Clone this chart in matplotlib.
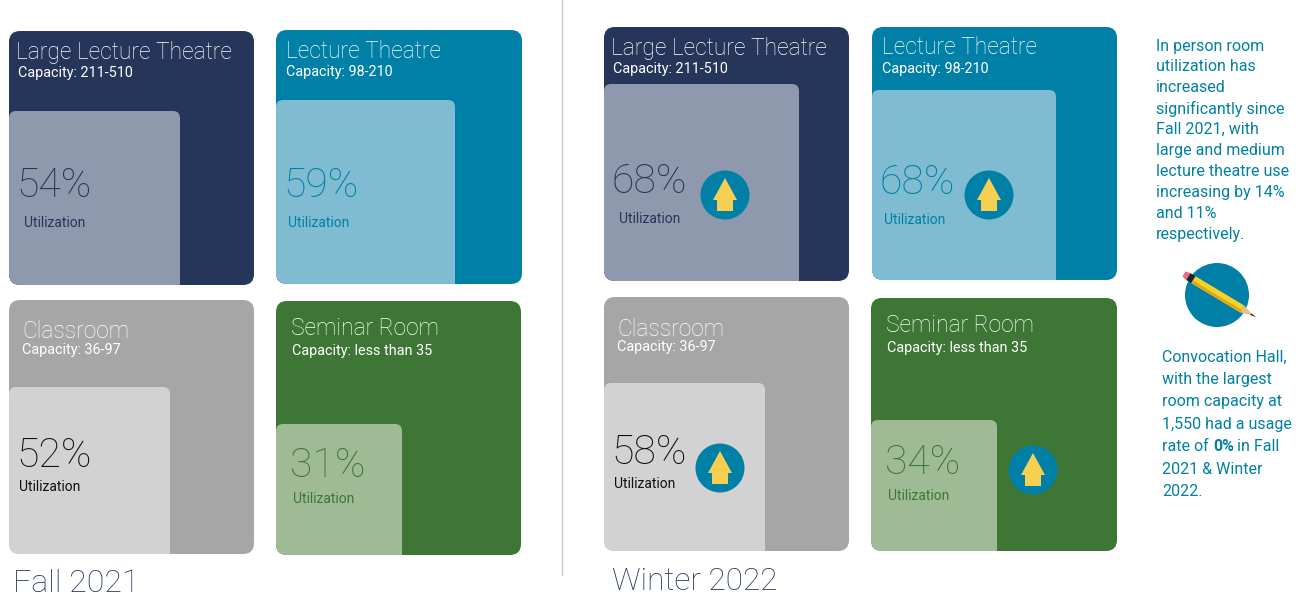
import matplotlib.pyplot as plt
from matplotlib.patches import FancyBboxPatch, Circle, Polygon
from matplotlib.transforms import Affine2D

plt.rcParams['font.family'] = ['Roboto', 'DejaVu Sans']

# Chart values
rooms = ['Large Lecture Theatre', 'Lecture Theatre', 'Classroom', 'Seminar Room']
capacities = ['Capacity: 211-510', 'Capacity: 98-210', 'Capacity: 36-97', 'Capacity: less than 35']
fall_util = [54, 59, 52, 31]
winter_util = [68, 68, 58, 34]
terms = ['Fall 2021', 'Winter 2022']
note_top = ['In person room', 'utilization has', 'increased', 'significantly since', 'Fall 2021, with',
            'large and medium', 'lecture theatre use', 'increasing by 14%', 'and 11%', 'respectively.']
note_bottom = ['Convocation Hall,', 'with the largest', 'room capacity at', '1,550 had a usage',
               'rate of', '2021 & Winter', '2022.']

# Colours per room: outer, inner, text on inner
outer_cols = ['#26355a', '#0080a6', '#a6a6a6', '#3e7636']
inner_cols = ['#8f99ad', '#7fbcd2', '#d2d2d2', '#9fbb95']
pct_cols = ['#26355a', '#0080a6', '#111111', '#3e7636']
teal = '#0080a6'
yellow = '#f7cf52'

# Layout in pixels: x0, y0, x1, y1 of each panel, and the right/top edge of the lighter box
fall_boxes = [(9, 31, 254, 285), (276, 30, 522, 284), (9, 300, 254, 554), (276, 301, 521, 555)]
winter_boxes = [(604, 27, 849, 281), (872, 27, 1117, 280), (604, 297, 849, 551), (871, 298, 1117, 551)]
fall_inner = [(180, 111), (455, 100), (170, 387), (402, 424)]
winter_inner = [(799, 84), (1056, 90), (765, 383), (997, 420)]
winter_arrows = [(725, 195), (989, 195), (720, 468), (1033, 470)]

# Text offsets from the panel corner, per room
title_off = [(7, 22), (10, 21), (13, 32), (15, 27)]
cap_off = [(9, 42), (10, 42), (13, 50), (16, 50)]
pct_off = [(7, 155), (7, 156), (7, 156), (14, 165)]
util_off = [(15, 192), (12, 193), (10, 187), (17, 198)]

fig = plt.figure(figsize=(13.11, 5.99), dpi=100)
ax = fig.add_axes([0, 0, 1, 1])
ax.set_xlim(0, 1311)
ax.set_ylim(599, 0)
ax.axis('off')


def round_box(x0, y0, x1, y1, r, color):
    return FancyBboxPatch((x0 + r, y0 + r), x1 - x0 - 2 * r, y1 - y0 - 2 * r,
                          boxstyle=f'round,pad={r},rounding_size={r}',
                          facecolor=color, edgecolor='none', mutation_aspect=1)


def draw_panel(i, box, inner, util):
    x0, y0, x1, y1 = box
    outer = round_box(x0, y0, x1, y1, 11, outer_cols[i])
    ax.add_patch(outer)
    lit = round_box(x0, inner[1], inner[0], y1 + 20, 7, inner_cols[i])
    ax.add_patch(lit)
    lit.set_clip_path(outer)

    ink = pct_cols[i]
    ax.text(x0 + title_off[i][0], y0 + title_off[i][1], rooms[i], color='white', fontsize=16.4,
            fontweight='light', va='center')
    ax.text(x0 + cap_off[i][0], y0 + cap_off[i][1], capacities[i], color='white', fontsize=10.4, va='center')
    ax.text(x0 + pct_off[i][0], y0 + pct_off[i][1], f'{util}%', color=ink, fontsize=29.5,
            fontweight='light', va='center')
    ax.text(x0 + util_off[i][0], y0 + util_off[i][1], 'Utilization', color=ink, fontsize=10, va='center')


def draw_arrow(cx, cy):
    ax.add_patch(Circle((cx, cy), 24.5, facecolor=teal, edgecolor='none'))
    shape = [(0, -17), (12, 5), (8, 5), (8, 16), (-8, 16), (-8, 5), (-12, 5)]
    ax.add_patch(Polygon([(cx + px, cy + py) for px, py in shape], facecolor=yellow, edgecolor='none'))


def draw_pencil():
    ax.add_patch(Circle((1217, 295), 32, facecolor=teal, edgecolor='none'))
    # pencil is drawn lying flat, then rotated onto the circle
    rot = Affine2D().rotate_deg(31).translate(1184, 274) + ax.transData
    parts = [([(0, -3), (5, -4), (5, 4), (0, 3)], '#ee6a80'),
             ([(5, -4), (11, -4), (11, 4), (5, 4)], '#222222'),
             ([(11, -4), (68, -4), (68, 4), (11, 4)], '#f5d327'),
             ([(11, 1), (68, 1), (68, 4), (11, 4)], '#e0a818'),
             ([(68, -4), (81, 0), (68, 4)], '#e8c084'),
             ([(78, -1), (84, 0), (78, 1)], '#222222')]
    for pts, col in parts:
        ax.add_patch(Polygon(pts, facecolor=col, edgecolor='none', transform=rot))


for i in range(4):
    draw_panel(i, fall_boxes[i], fall_inner[i], fall_util[i])
    draw_panel(i, winter_boxes[i], winter_inner[i], winter_util[i])
    draw_arrow(*winter_arrows[i])

ax.plot([562, 562], [0, 575], color='#c9c9c9', lw=1)
ax.text(13, 583, terms[0], color='#26355a', fontsize=23, fontweight='light', va='center')
ax.text(612, 582, terms[1], color='#26355a', fontsize=22.8, fontweight='light', va='center')

for n, line in enumerate(note_top):
    ax.text(1156, 46 + n * 20.9, line, color=teal, fontsize=11.5, va='center')
draw_pencil()
for n, line in enumerate(note_bottom):
    ax.text(1162, 357 + n * 22.4, line, color=teal, fontsize=11.5, va='center')
ax.text(1213, 357 + 4 * 22.4, '0%', color=teal, fontsize=11.5, fontweight='bold', va='center')
ax.text(1237, 357 + 4 * 22.4, 'in Fall', color=teal, fontsize=11.5, va='center')

fig.savefig('out.png', dpi=100)
